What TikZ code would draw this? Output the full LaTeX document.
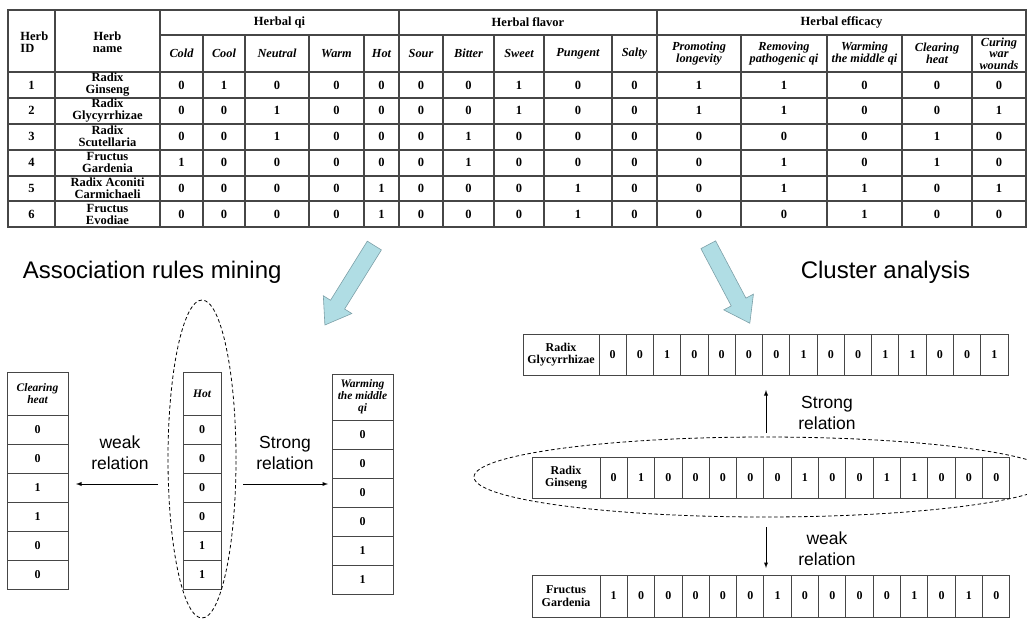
\documentclass[tikz,border=0pt]{standalone}
\usepackage{fontspec}
\setmainfont{Liberation Serif}
\setsansfont{Liberation Sans}
\usetikzlibrary{positioning,shapes.geometric,shapes.arrows}
\definecolor{arrowfill}{RGB}{176,221,228}
\definecolor{arrowline}{RGB}{125,160,168}
\definecolor{gridline}{RGB}{70,70,70}
\tikzset{
  txt/.style={font=\fontsize{12.5}{12}\selectfont\bfseries, align=center, inner sep=0pt},
  itxt/.style={font=\fontsize{12.3}{11.5}\selectfont\bfseries\itshape, align=center, inner sep=0pt},
  box/.style={draw=gridline, line width=1pt, outer sep=0pt, inner sep=0pt, align=center,
              font=\fontsize{12}{12.5}\selectfont\bfseries},
  ibox/.style={box, font=\fontsize{11.5}{12}\selectfont\bfseries\itshape},
  relation/.style={font=\fontsize{17.5}{21}\selectfont\sffamily, align=center},
  heading/.style={font=\fontsize{24}{28}\selectfont\sffamily},
  bigarrow/.style={single arrow, draw=arrowline, fill=arrowfill, line width=0.6pt,
                   inner xsep=0pt, inner ysep=8pt, minimum width=33pt,
                   single arrow head extend=8.5pt, single arrow tip angle=70},
  ring/.style={draw, ellipse, dash pattern=on 3.5pt off 2.5pt, line width=0.8pt, inner sep=0pt}
}

\begin{document}
\begin{tikzpicture}[x=1pt,y=-1pt,>=latex,line width=0.9pt]
\useasboundingbox (0,0) rectangle (1027,620);

\begin{scope}[draw=gridline,line width=1.1pt]
\draw (8,10) rectangle (1026,227);
\draw (160,35) -- (1026,35);
\foreach \y in {72,98,124,150,176,201} \draw (8,\y) -- (1026,\y);
\foreach \x in {55,160,399,657} \draw (\x,10) -- (\x,227);
\foreach \x in {203,245,309,364,443,494,544,612,741,827,902,972} \draw (\x,35) -- (\x,227);
\end{scope}

\node[txt, align=left, anchor=west] (herb-id) at (20,42.5) {Herb\\ID};
\node[txt] (herb-nm) at (107.5,42.5) {Herb\\name};
\node[txt] (grp-qi) at (279.5,22.5) {Herbal qi};
\node[txt] (grp-flavor) at (528,22.5) {Herbal flavor};
\node[txt] (grp-efficacy) at (841.5,22.5) {Herbal efficacy};

\foreach \x/\t [count=\c] in {181.5/Cold, 224/Cool, 277/Neutral, 336.5/Warm, 381.5/Hot,
    421/Sour, 468.5/Bitter, 519/Sweet, 578/Pungent, 634.5/Salty,
    699/{Promoting\\longevity}, 784/{Removing\\pathogenic qi}, 864.5/{Warming\\the middle qi},
    937/{Clearing\\heat}, 999/{Curing\\war\\wounds}}
  \node[itxt] (sub-\c) at (\x,53.5) {\t};

\def\colx{{181.5,224,277,336.5,381.5,421,468.5,519,578,634.5,699,784,864.5,937,999}}
\foreach \nm [count=\r] in {{Radix\\Ginseng},{Radix\\Glycyrrhizae},{Radix\\Scutellaria},
    {Fructus\\Gardenia},{Radix Aconiti\\Carmichaeli},{Fructus\\Evodiae}} {
  \pgfmathsetmacro\ry{85+25.8*(\r-1)}
  \node[txt] (id-\r) at (31.5,\ry) {\r};
  \node[txt] (nm-\r) at (107.5,\ry) {\nm};
}
\foreach \vals [count=\r] in {{0,1,0,0,0,0,0,1,0,0,1,1,0,0,0},{0,0,1,0,0,0,0,1,0,0,1,1,0,0,1},
    {0,0,1,0,0,0,1,0,0,0,0,0,0,1,0},{1,0,0,0,0,0,1,0,0,0,0,1,0,1,0},
    {0,0,0,0,1,0,0,0,1,0,0,1,1,0,1},{0,0,0,0,1,0,0,0,1,0,0,0,1,0,0}} {
  \pgfmathsetmacro\ry{85+25.8*(\r-1)}
  \foreach \v [count=\c] in \vals {
    \pgfmathsetmacro\cx{\colx[\c-1]}
    \node[txt] (v-\r-\c) at (\cx,\ry) {\v};
  }
}

\node[bigarrow, minimum height=93.6pt, rotate=-121.9] (to-assoc) at (352.75,280.25) {};
\node[bigarrow, minimum height=88.8pt, rotate=-62.1] (to-clust) at (726.25,278.75) {};

\node[heading, anchor=base west] (assoc) at (19,278) {Association rules mining};
\node[heading, anchor=base west] (clust) at (797,278) {Cluster analysis};

\node[ibox, minimum width=61pt, minimum height=43pt] (clr-h) at (37.5,393.5) {Clearing\\heat};
\foreach \v [count=\i] in {0,0,1,1,0,0}
  \node[box, minimum width=61pt, minimum height=29pt] (clr-\i) at (37.5,{400.5+29*\i}) {\v};
\node[ibox, minimum width=38pt, minimum height=43pt] (hot-h) at (202,393.5) {Hot};
\foreach \v [count=\i] in {0,0,0,0,1,1}
  \node[box, minimum width=38pt, minimum height=29pt] (hot-\i) at (202,{400.5+29*\i}) {\v};
\node[ibox, minimum width=61pt, minimum height=46pt] (wrm-h) at (362.5,397) {Warming\\the middle\\qi};
\foreach \v [count=\i] in {0,0,0,0,1,1}
  \node[box, minimum width=61pt, minimum height=29pt] (wrm-\i) at (362.5,{405.5+29*\i}) {\v};

\node[ring, minimum width=68pt, minimum height=318pt] (hot-ring) at (202,459) {};

\node[relation] (weak-l) at (120,452.5) {weak\\relation};
\node[relation] (strong-l) at (285,452.5) {Strong\\relation};
\coordinate (weak-from) at (158,484);
\coordinate (weak-to) at (76,484);
\coordinate (strong-from) at (243,484);
\coordinate (strong-to) at (328,484);
\draw[->] (weak-from) -- (weak-to);
\draw[->] (strong-from) -- (strong-to);

\node[box, minimum width=76pt, minimum height=41pt] (gly-n) at (561,354.5) {Radix\\Glycyrrhizae};
\foreach \v [count=\i] in {0,0,1,0,0,0,0,1,0,0,1,1,0,0,1}
  \node[box, minimum width=27.27pt, minimum height=41pt] (gly-\i) at ({599+27.27*(\i-0.5)},354.5) {\v};
\node[box, minimum width=68pt, minimum height=41pt] (gin-n) at (566,477.5) {Radix\\Ginseng};
\foreach \v [count=\i] in {0,1,0,0,0,0,0,1,0,0,1,1,0,0,0}
  \node[box, minimum width=27.33pt, minimum height=41pt] (gin-\i) at ({600+27.33*(\i-0.5)},477.5) {\v};
\node[box, minimum width=68pt, minimum height=42pt] (gar-n) at (566,596) {Fructus\\Gardenia};
\foreach \v [count=\i] in {1,0,0,0,0,0,1,0,0,0,0,1,0,1,0}
  \node[box, minimum width=27.33pt, minimum height=42pt] (gar-\i) at ({600+27.33*(\i-0.5)},596) {\v};

\node[ring, minimum width=582pt, minimum height=80pt] (gin-ring) at (765,477) {};

\node[relation] (strong-r) at (827,412.5) {Strong\\relation};
\node[relation] (weak-r) at (827,549) {weak\\relation};
\coordinate (up-from) at (766,433);
\coordinate (up-to) at (766,390);
\coordinate (down-from) at (766,527);
\coordinate (down-to) at (766,568);
\draw[->] (up-from) -- (up-to);
\draw[->] (down-from) -- (down-to);

\end{tikzpicture}
\end{document}
